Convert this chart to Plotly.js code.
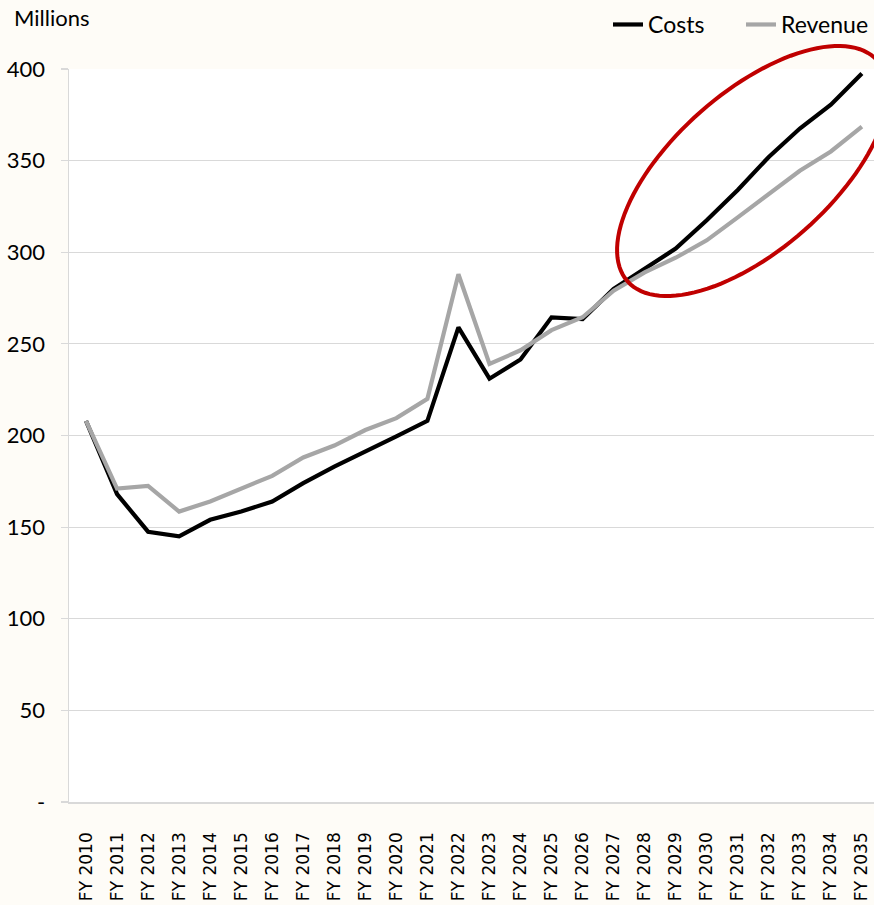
<!DOCTYPE html>
<html>
<head>
<meta charset="utf-8">
<script src="https://cdn.plot.ly/plotly-3.0.1.min.js"></script>
<style>
  html, body { margin: 0; padding: 0; background: #fefcf7; }
  #chart { width: 874px; height: 905px; }
</style>
</head>
<body>
<div id="chart"></div>
<script>
const years = ["FY 2010","FY 2011","FY 2012","FY 2013","FY 2014","FY 2015","FY 2016","FY 2017","FY 2018","FY 2019","FY 2020","FY 2021","FY 2022","FY 2023","FY 2024","FY 2025","FY 2026","FY 2027","FY 2028","FY 2029","FY 2030","FY 2031","FY 2032","FY 2033","FY 2034","FY 2035"];
const costs = [208, 168, 147.5, 145, 154, 158.5, 164, 174, 183, 191, 199.5, 208, 259, 231, 241.5, 264.5, 263.5, 280, 291, 302, 317.5, 334, 352, 367.5, 380.5, 397.5];
const revenue = [208, 171, 172.5, 158.5, 164, 171, 178, 188, 194.5, 203, 209.5, 220, 288, 239, 246.5, 257.5, 264.5, 279, 289, 297, 306.5, 319, 331.5, 344.5, 355, 368.5];
const yTickVals = [0, 50, 100, 150, 200, 250, 300, 350, 400];
const yTickText = ["-", "50", "100", "150", "200", "250", "300", "350", "400"];

// Highlight ellipse (rotated), built in pixel space then converted to paper coords
const W = 874, H = 905, L = 69, R = 0, T = 69, B = 103;
const pw = W - L - R, ph = H - T - B;
function ellipsePath(cx, cy, a, b, deg) {
  const th = deg * Math.PI / 180;
  let d = "";
  const n = 120;
  for (let k = 0; k <= n; k++) {
    const t = 2 * Math.PI * k / n;
    const px = cx + a * Math.cos(th) * Math.cos(t) - b * Math.sin(th) * Math.sin(t);
    const py = cy - (a * Math.sin(th) * Math.cos(t) + b * Math.cos(th) * Math.sin(t));
    const xp = (px - L) / pw;
    const yp = (H - B - py) / ph;
    d += (k === 0 ? "M" : "L") + xp.toFixed(5) + "," + yp.toFixed(5);
  }
  return d + "Z";
}

const traces = [
  {x: years, y: costs, name: "Costs", type: "scatter", mode: "lines",
   line: {color: "#000000", width: 4.2}},
  {x: years, y: revenue, name: "Revenue", type: "scatter", mode: "lines",
   line: {color: "#a6a6a6", width: 4.2}}
];

const layout = {
  width: W, height: H,
  margin: {l: L, r: R, t: T, b: B, pad: 0},
  paper_bgcolor: "#fefcf7",
  plot_bgcolor: "#ffffff",
  font: {family: "Lato, 'Open Sans', sans-serif", color: "#000000", size: 22},
  showlegend: true,
  legend: {orientation: "h", x: 1.0, xanchor: "right", y: 1.09, yanchor: "top",
           bgcolor: "rgba(0,0,0,0)", font: {size: 23, family: "Lato, sans-serif"},
           itemwidth: 30, tracegroupgap: 0, entrywidth: 88, entrywidthmode: "pixels"},
  xaxis: {
    type: "category",
    range: [-0.548, 25.39],
    showgrid: false, zeroline: false,
    showline: true, linecolor: "#d9d9d9", linewidth: 1.5,
    ticks: "", tickangle: -90,
    tickfont: {family: "'DejaVu Sans', sans-serif", size: 17, color: "#000000"},
    ticklabelstandoff: 22
  },
  yaxis: {
    range: [0, 400],
    tickvals: yTickVals, ticktext: yTickText,
    showgrid: true, gridcolor: "#d9d9d9", gridwidth: 1.2,
    zeroline: false,
    showline: true, linecolor: "#d9d9d9", linewidth: 1.5,
    ticks: "outside", ticklen: 7, tickcolor: "#d9d9d9", tickwidth: 1.2,
    tickfont: {family: "Lato, sans-serif", size: 22, color: "#000000"},
    ticklabelstandoff: 11
  },
  annotations: [
    {text: "Millions", xref: "paper", yref: "paper",
     x: (12 - L) / pw, y: 1 + (T - 18) / ph, xanchor: "left", yanchor: "middle",
     showarrow: false, font: {family: "Lato, sans-serif", size: 22, color: "#000000"}}
  ],
  shapes: [
    {type: "path", xref: "paper", yref: "paper", layer: "above",
     path: ellipsePath(752.5, 171, 166.7, 78.7, 41.4),
     line: {color: "#c00000", width: 4}, fillcolor: "rgba(0,0,0,0)"}
  ]
};

Plotly.newPlot("chart", traces, layout, {displayModeBar: false, staticPlot: true});
</script>
</body>
</html>
